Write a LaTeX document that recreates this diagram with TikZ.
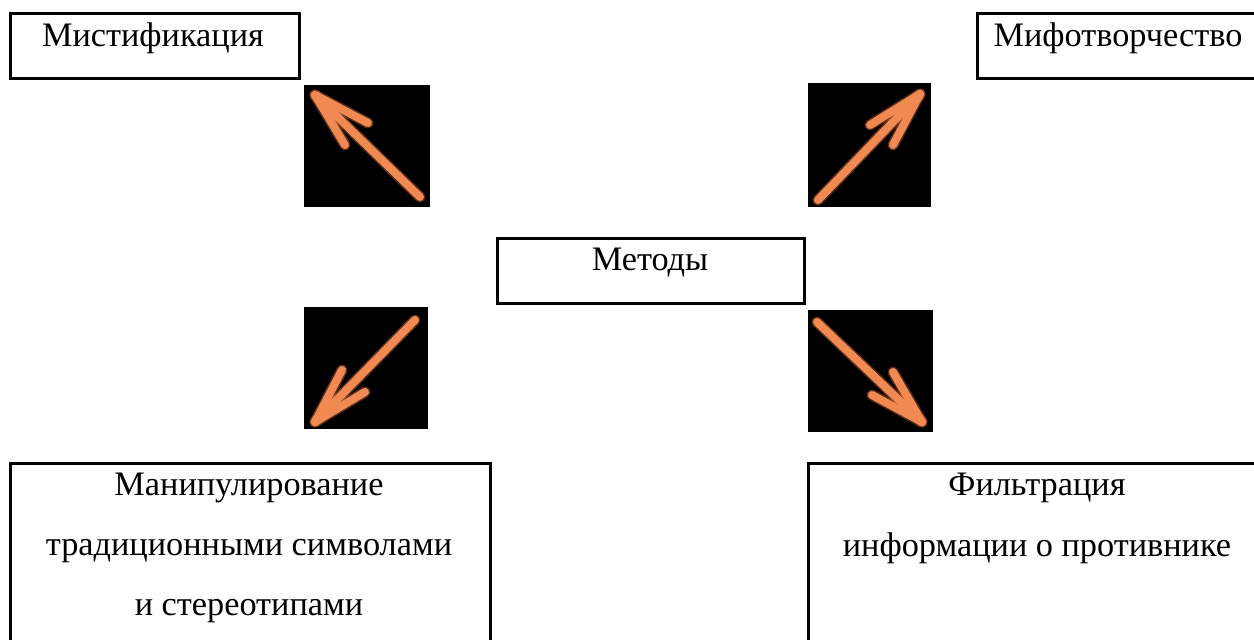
\documentclass[tikz,border=0pt]{standalone}
\usepackage{fontspec}
\setmainfont{Liberation Serif}
\definecolor{arrorange}{RGB}{240,138,82}
\definecolor{arrglow}{RGB}{200,100,50}
\tikzset{
  frame/.style={draw=black, line width=2.5pt, inner sep=0pt, anchor=north west},
  lbl/.style={font=\fontsize{34.3}{60}\selectfont, anchor=base, inner sep=0pt, align=center},
  tile/.style={fill=black, inner sep=0pt, anchor=north west},
  orarr/.style={draw=arrorange, line width=8pt, line cap=round, line join=round},
  orglow/.style={draw=arrglow, opacity=0.45, line width=11pt, line cap=round, line join=round},
}
\newcommand{\OrangeArrow}[4]{%
  \draw[orglow] (#1) -- (#2);
  \draw[orglow] (#3) -- (#2) -- (#4);
  \draw[orarr] (#1) -- (#2);
  \draw[orarr] (#3) -- (#2) -- (#4);
  \fill[arrorange] (#2) -- ($(#2)!0.5!(#3)$) -- ($(#2)!0.5!(#4)$) -- cycle;
}
\usetikzlibrary{calc}
\begin{document}
\begin{tikzpicture}[x=1pt,y=-1pt]
\clip (0,0) rectangle (1254,640);
\fill[white] (0,0) rectangle (1254,640);

% boxes
\node[frame, minimum width=289pt, minimum height=65pt] (mist) at (9,12) {};
\node[lbl] (mistt) at (153,46) {Мистификация};

\node[frame, minimum width=286pt, minimum height=65pt] (mif) at (976,12) {};
\node[lbl] (mift) at (1118,46) {Мифотворчество};

\node[frame, minimum width=307pt, minimum height=65pt] (met) at (496,237) {};
\node[lbl] (mett) at (650,270) {Методы};

\node[frame, minimum width=480pt, minimum height=220pt] (man) at (9,462) {};
\node[lbl] (mant1) at (249,495) {Манипулирование};
\node[lbl] (mant2) at (249,555) {традиционными символами};
\node[lbl] (mant3) at (249,615) {и стереотипами};

\node[frame, minimum width=460pt, minimum height=220pt] (fil) at (807,462) {};
\node[lbl] (filt1) at (1037,495) {Фильтрация};
\node[lbl] (filt2) at (1037,556) {информации о противнике};

% arrow tiles
\node[tile, minimum width=126pt, minimum height=122pt] (tl) at (304,85) {};
\node[tile, minimum width=123pt, minimum height=124pt] (tr) at (808,83) {};
\node[tile, minimum width=124pt, minimum height=122pt] (bl) at (304,307) {};
\node[tile, minimum width=125pt, minimum height=122pt] (br) at (808,310) {};

% top-left arrow
\coordinate (tlA) at (420,197); \coordinate (tlB) at (315,95);
\coordinate (tlC) at (368,123); \coordinate (tlD) at (345,145);
\OrangeArrow{tlA}{tlB}{tlC}{tlD}
% top-right arrow
\coordinate (trA) at (818,200); \coordinate (trB) at (920,94);
\coordinate (trC) at (870,125); \coordinate (trD) at (893,145);
\OrangeArrow{trA}{trB}{trC}{trD}
% bottom-left arrow
\coordinate (blA) at (415,320); \coordinate (blB) at (315,422);
\coordinate (blC) at (342,370); \coordinate (blD) at (365,392);
\OrangeArrow{blA}{blB}{blC}{blD}
% bottom-right arrow
\coordinate (brA) at (817,322); \coordinate (brB) at (922,422);
\coordinate (brC) at (893,372); \coordinate (brD) at (872,395);
\OrangeArrow{brA}{brB}{brC}{brD}
\end{tikzpicture}
\end{document}
